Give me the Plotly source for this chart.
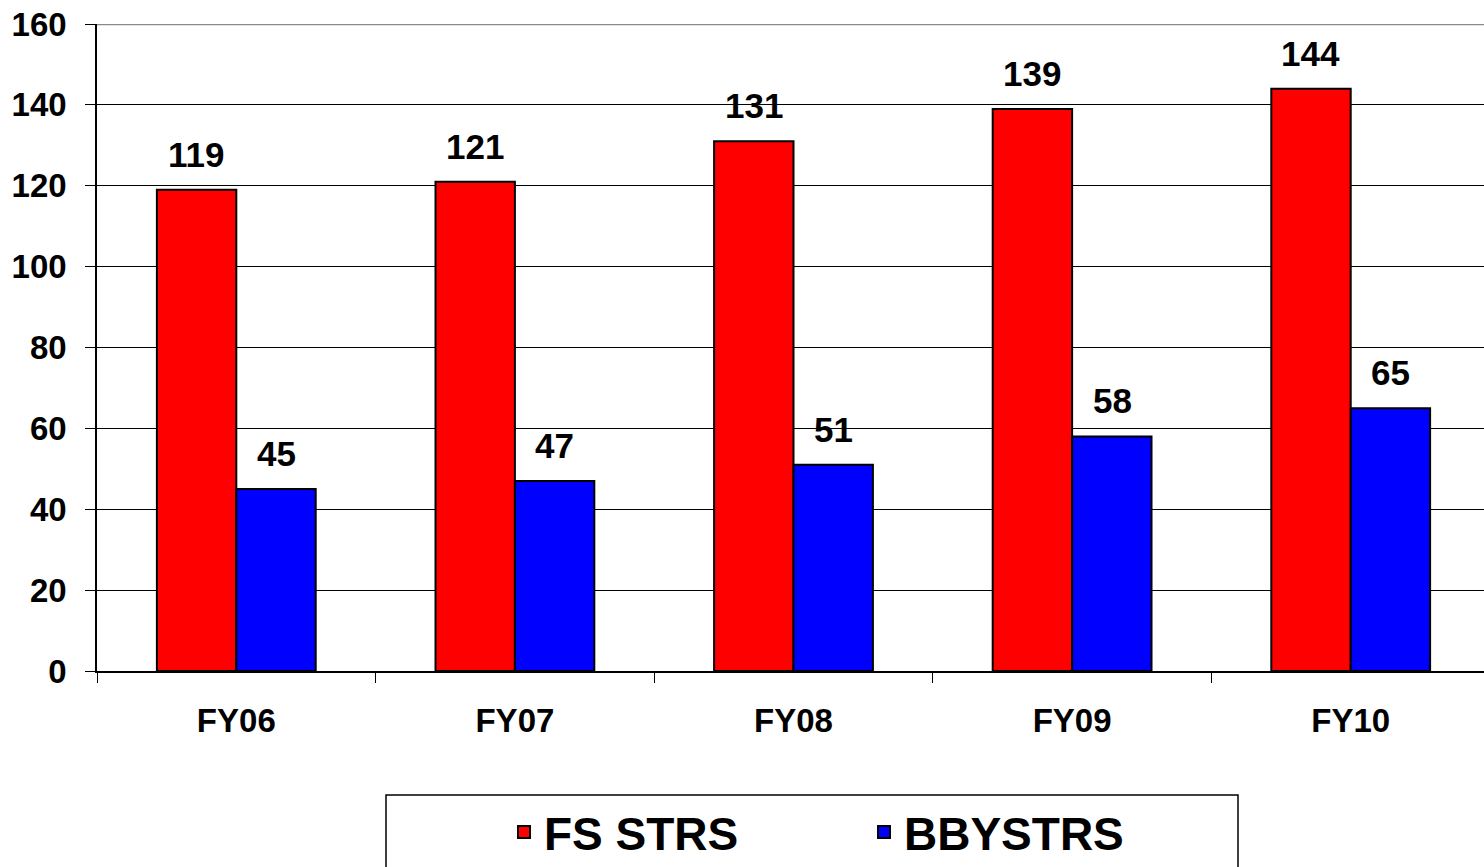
import plotly.graph_objects as go

categories = ["FY06", "FY07", "FY08", "FY09", "FY10"]
fs_strs = [119, 121, 131, 139, 144]
bbystrs = [45, 47, 51, 58, 65]
y_ticks = [0, 20, 40, 60, 80, 100, 120, 140, 160]
Y_MAX = 160

FONT = "Arial, Liberation Sans, sans-serif"

W, H = 1484, 867
L, T, B = 97, 24, 196
PW = W - L          # plot width
PH = H - T - B      # plot height
Y0 = T + PH         # pixel y of plot bottom


def px_x(p):
    return (p - L) / PW


def px_y(p):
    return (Y0 - p) / PH


fig = go.Figure()
fig.add_trace(go.Bar(name="FS STRS", x=categories, y=fs_strs,
                     marker=dict(color="#FF0000", line=dict(color="black", width=2))))
fig.add_trace(go.Bar(name="BBYSTRS", x=categories, y=bbystrs,
                     marker=dict(color="#0000FF", line=dict(color="black", width=2))))

# data labels above bars
for cat, v in zip(categories, fs_strs):
    fig.add_annotation(x=cat, y=v, text=f"<b>{v}</b>", showarrow=False,
                       xshift=-40, yshift=14, yanchor="bottom",
                       font=dict(family=FONT, size=35, color="black"))
for cat, v in zip(categories, bbystrs):
    fig.add_annotation(x=cat, y=v, text=f"<b>{v}</b>", showarrow=False,
                       xshift=40, yshift=14, yanchor="bottom",
                       font=dict(family=FONT, size=35, color="black"))

# plot-area top border (grey)
fig.add_shape(type="line", xref="paper", yref="y", x0=0, x1=1, y0=Y_MAX, y1=Y_MAX,
              line=dict(color="#8a8a8a", width=2.5), layer="above")

# legend frame
fig.add_shape(type="rect", xref="paper", yref="paper",
              x0=px_x(386), x1=px_x(1238),
              y0=px_y(890), y1=px_y(795),
              line=dict(color="black", width=1.5), fillcolor="white", layer="below")

fig.update_layout(
    width=W, height=H,
    margin=dict(l=L, r=0, t=T, b=B, autoexpand=False),
    paper_bgcolor="white", plot_bgcolor="white",
    barmode="group", bargap=0.43, bargroupgap=0,
    showlegend=True,
    legend=dict(orientation="h", x=px_x(504), xanchor="left",
                y=px_y(832), yanchor="middle",
                font=dict(family=FONT, size=46, color="black", weight="bold"),
                entrywidth=315, entrywidthmode="pixels",
                bgcolor="rgba(0,0,0,0)", borderwidth=0),
    font=dict(family=FONT, color="black"),
)
fig.update_yaxes(range=[0, Y_MAX], tickvals=y_ticks, showgrid=True,
                 gridcolor="black", gridwidth=1, automargin=False,
                 showline=True, linecolor="black", linewidth=1.5,
                 ticks="outside", ticklen=10, tickcolor="black",
                 ticklabelstandoff=12, ticklabeloverflow="allow",
                 tickfont=dict(family=FONT, size=33, color="black", weight="bold"),
                 zeroline=False, mirror=False)
fig.update_xaxes(range=[-0.5, -0.5 + PW / 278.6], showgrid=False, automargin=False,
                 showline=True, linecolor="black", linewidth=1.5,
                 ticks="outside", ticklen=10, tickcolor="black", tickson="boundaries",
                 tickfont=dict(family=FONT, size=33, color="black", weight="bold"),
                 ticklabelstandoff=20)

fig.write_html("out.html", config={"displayModeBar": False},
               post_script="document.body.style.margin='0';document.body.style.overflow='hidden';")
